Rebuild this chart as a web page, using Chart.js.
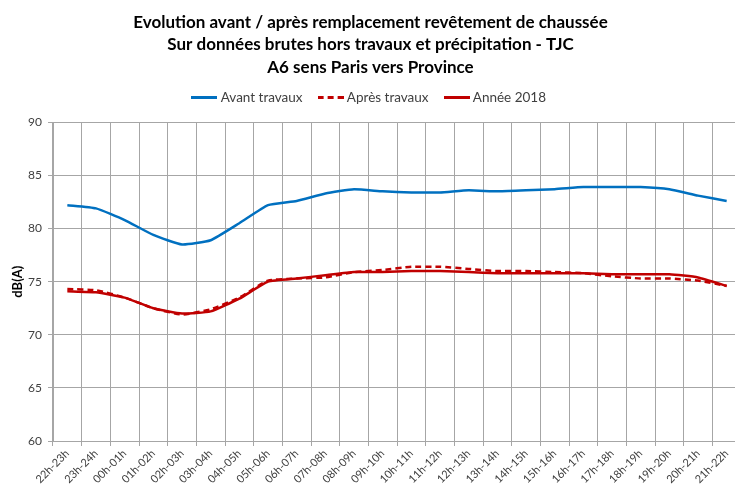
<!DOCTYPE html>
<html>
<head>
<meta charset="utf-8">
<script src="https://cdn.jsdelivr.net/npm/chart.js@4/dist/chart.umd.min.js"></script>
<style>
  html, body { margin: 0; padding: 0; background: #fff; overflow: hidden; }
  #wrap { width: 735px; height: 489px; overflow: hidden; }
</style>
</head>
<body>
<div id="wrap"><canvas id="noiseChart" width="741" height="489"></canvas></div>
<script>
// Tranches horaires (TJC)
const hours = [
    '22h-23h', '23h-24h', '00h-01h', '01h-02h', '02h-03h', '03h-04h',
    '04h-05h', '05h-06h', '06h-07h', '07h-08h', '08h-09h', '09h-10h',
    '10h-11h', '11h-12h', '12h-13h', '13h-14h', '14h-15h', '15h-16h',
    '16h-17h', '17h-18h', '18h-19h', '19h-20h', '20h-21h', '21h-22h'
];

// niveaux en dB(A)
const avantTravaux = [
    82.2, 81.9, 80.8, 79.4, 78.5, 78.9, 80.5, 82.2, 82.6, 83.3, 83.7, 83.5,
    83.4, 83.4, 83.6, 83.5, 83.6, 83.7, 83.9, 83.9, 83.9, 83.7, 83.1, 82.6
];
const apresTravaux = [
    74.3, 74.2, 73.5, 72.5, 71.9, 72.4, 73.5, 75.1, 75.3, 75.4, 75.9, 76.1,
    76.4, 76.4, 76.2, 76.0, 76.0, 75.9, 75.8, 75.5, 75.3, 75.3, 75.1, 74.6
];
const annee2018 = [
    74.1, 74.0, 73.5, 72.5, 72.0, 72.2, 73.4, 75.0, 75.3, 75.6, 75.9, 75.9,
    76.0, 76.0, 75.9, 75.8, 75.8, 75.8, 75.8, 75.7, 75.7, 75.7, 75.4, 74.6
];

const yTicks = { min: 60, max: 90, step: 5 };

const blue = '#0070c0';
const red = '#c00000';
const gridColor = '#a6a6a6';
const textColor = '#404040';
const fontFamily = 'Lato, "Open Sans", sans-serif';

// petit trait pour la légende (plein ou pointillé)
function legendLine(color, dash) {
    const c = document.createElement('canvas');
    c.width = 26;
    c.height = 3;
    const g = c.getContext('2d');
    g.strokeStyle = color;
    g.lineWidth = 3;
    g.setLineDash(dash || []);
    g.beginPath();
    g.moveTo(0, 1.5);
    g.lineTo(26, 1.5);
    g.stroke();
    return c;
}

// remonte un peu la légende, comme dans Excel
const legendNudge = {
    id: 'legendNudge',
    afterLayout(chart) {
        const lg = chart.legend;
        if (!lg) return;
        lg.top -= 8;
        lg.bottom -= 8;
    }
};

const ctx = document.getElementById('noiseChart');

new Chart(ctx, {
    type: 'line',
    data: {
        labels: hours,
        datasets: [{
            label: 'Avant travaux',
            data: avantTravaux,
            borderColor: blue,
            backgroundColor: blue,
            borderWidth: 2.5,
            pointRadius: 0,
            pointStyle: legendLine(blue),
            tension: 0.15
        }, {
            label: 'Après travaux',
            data: apresTravaux,
            borderColor: red,
            backgroundColor: red,
            borderWidth: 2.5,
            borderDash: [6, 4],
            pointRadius: 0,
            pointStyle: legendLine(red, [6, 4]),
            tension: 0.15
        }, {
            label: 'Année 2018',
            data: annee2018,
            borderColor: red,
            backgroundColor: red,
            borderWidth: 2.5,
            pointRadius: 0,
            pointStyle: legendLine(red),
            tension: 0.15
        }]
    },
    plugins: [legendNudge],
    options: {
        responsive: false,
        animation: false,
        layout: { padding: 0 },
        plugins: {
            title: {
                display: true,
                text: [
                    'Evolution avant / après remplacement revêtement de chaussée',
                    'Sur données brutes hors travaux et précipitation - TJC',
                    'A6 sens Paris vers Province'
                ],
                color: '#000',
                font: { family: fontFamily, size: 17, weight: 'bold', lineHeight: 1.32 },
                padding: { top: 11, bottom: 2 }
            },
            legend: {
                position: 'top',
                labels: {
                    color: textColor,
                    font: { family: fontFamily, size: 13.5 },
                    usePointStyle: true,
                    pointStyleWidth: 19,
                    padding: 18.5
                }
            },
            tooltip: { enabled: false }
        },
        scales: {
            x: {
                offset: true,
                grid: {
                    offset: true,
                    color: gridColor,
                    lineWidth: 1,
                    tickLength: 5
                },
                border: { color: gridColor },
                ticks: {
                    color: textColor,
                    font: { family: fontFamily, size: 11 },
                    minRotation: 45,
                    maxRotation: 45,
                    autoSkip: false,
                    padding: 1
                },
                afterFit(scale) { scale.height = 48; }
            },
            y: {
                min: yTicks.min,
                max: yTicks.max,
                grid: { color: gridColor, lineWidth: 1, tickLength: 5 },
                border: { color: gridColor },
                ticks: {
                    stepSize: yTicks.step,
                    color: textColor,
                    font: { family: fontFamily, size: 12 },
                    padding: 6
                },
                title: {
                    display: true,
                    text: 'dB(A)',
                    color: '#000',
                    font: { family: fontFamily, size: 13, weight: 'bold' },
                    padding: { top: 10, bottom: 0 }
                },
                afterFit(scale) { scale.width = 53; }
            }
        }
    }
});
</script>
</body>
</html>
